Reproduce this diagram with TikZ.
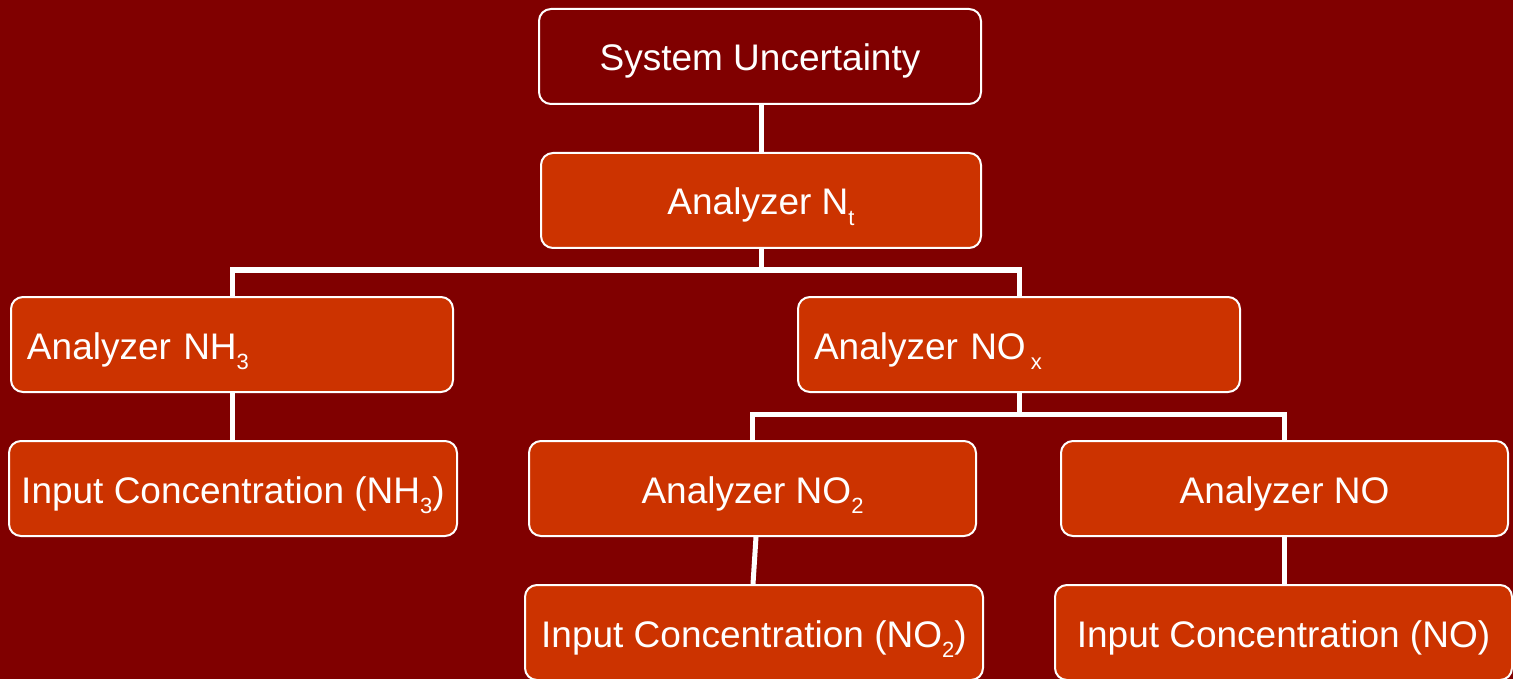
\documentclass[tikz,border=0pt]{standalone}
\usepackage{fontspec}
\setmainfont{Liberation Sans}
\definecolor{bgred}{HTML}{800000}
\definecolor{boxred}{HTML}{CC3300}
\newcommand{\subx}[1]{\raisebox{-10pt}{\fontsize{22}{22}\selectfont #1}}
\begin{document}
\begin{tikzpicture}[x=1pt,y=-1pt,
  box/.style={draw=white, line width=2pt, rounded corners=12pt, fill=boxred,
    text=white, font=\fontsize{37}{44}\selectfont, inner sep=0pt, align=center,
    minimum height=95pt, text height=29pt, text depth=0pt},
  lbox/.style={box, align=left, inner xsep=16pt, text width=410pt},
  conn/.style={draw=white, line width=5pt}]
\fill[bgred] (0,0) rectangle (1513,679);
\clip (0,0) rectangle (1513,679);
\node[box, fill=bgred, minimum width=442pt] (sys) at (760,56.5) {System Uncertainty};
\node[box, minimum width=440pt] (nt) at (761,200.5) {Analyzer N\subx{t}};
\node[lbox] (nh3) at (232,344.5) {Analyzer NH\subx{3}};
\node[lbox] (nox) at (1019,344.5) {Analyzer NO\hspace{5pt}\subx{x}};
\node[box, minimum width=448pt] (innh3) at (233,488.5) {Input Concentration (NH\subx{3})};
\node[box, minimum width=447pt] (no2) at (752.5,488.5) {Analyzer NO\subx{2}};
\node[box, minimum width=447pt] (no) at (1284.5,488.5) {Analyzer NO};
\node[box, minimum width=458pt] (inno2) at (754,632.5) {Input Concentration (NO\subx{2})};
\node[box, minimum width=457pt] (inno) at (1283.5,632.5) {Input Concentration (NO)};
\coordinate (j1) at (761,270);
\coordinate (j2) at (1019,414);
\draw[conn] (nt.north |- sys.south) -- (nt.north);
\draw[conn] (nt.south) -- (j1) -| (nh3.north);
\draw[conn] (j1) -| (nox.north);
\draw[conn] (nh3.south) -- (nh3.south |- innh3.north);
\draw[conn] (nox.south) -- (j2) -| (no2.north);
\draw[conn] (j2) -| (no.north);
\draw[conn] ([xshift=3.5pt]no2.south) -- ([xshift=-1pt]inno2.north);
\draw[conn] (no.south) -- (no.south |- inno.north);
\end{tikzpicture}
\end{document}
